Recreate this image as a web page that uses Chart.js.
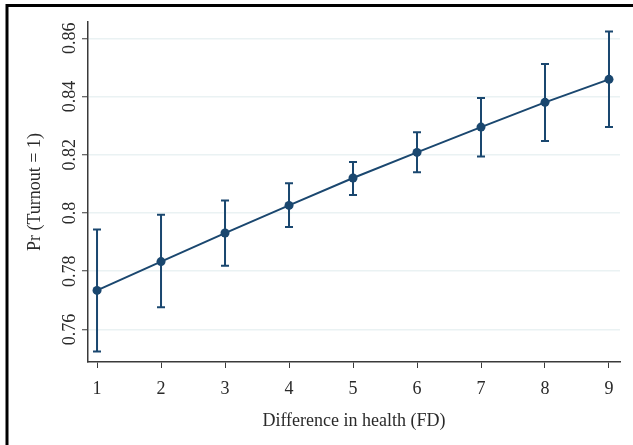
<!DOCTYPE html>
<html><head><meta charset="utf-8">
<script src="https://cdn.jsdelivr.net/npm/chart.js@4/dist/chart.umd.min.js"></script>
<style>html,body{margin:0;padding:0;background:#fff;} canvas{display:block}</style>
</head><body>
<canvas id="c" width="633" height="445"></canvas>
<script>
const categories = [1, 2, 3, 4, 5, 6, 7, 8, 9];
const margins = [0.7734, 0.7833, 0.7931, 0.8026, 0.8120, 0.8208, 0.8295, 0.8380, 0.8459];
const ciLower = [0.7524, 0.7676, 0.7819, 0.7952, 0.8062, 0.8140, 0.8194, 0.8247, 0.8295];
const ciUpper = [0.7943, 0.7994, 0.8043, 0.8102, 0.8175, 0.8277, 0.8395, 0.8512, 0.8623];
const yTickValues = [0.76, 0.78, 0.80, 0.82, 0.84, 0.86];
const yTickLabels = ['0.76', '0.78', '0.8', '0.82', '0.84', '0.86'];
const xTickLabels = ['1', '2', '3', '4', '5', '6', '7', '8', '9'];
const xTitle = 'Difference in health (FD)';
const yTitle = 'Pr (Turnout = 1)';

const NAVY = '#1a476f';
const AXIS = '#3a3a3a';
const TEXT = '#2a2a2a';
const FONT = { family: "'Liberation Serif','Times New Roman',serif", size: 18 };

const frame = {
  id: 'frame',
  beforeDraw(chart) {
    const ctx = chart.ctx;
    ctx.save();
    ctx.fillStyle = '#fff';
    ctx.fillRect(0, 0, chart.width, chart.height);
    ctx.strokeStyle = '#000';
    ctx.lineWidth = 3;
    ctx.beginPath();
    ctx.moveTo(5.5, 5.5); ctx.lineTo(chart.width, 5.5);
    ctx.moveTo(7, 4); ctx.lineTo(7, chart.height);
    ctx.stroke();
    ctx.restore();
  }
};

const errorBars = {
  id: 'errorBars',
  beforeDatasetsDraw(chart) {
    const { ctx, scales: { x, y } } = chart;
    ctx.save();
    ctx.strokeStyle = NAVY;
    ctx.lineWidth = 2;
    categories.forEach((c, i) => {
      const px = x.getPixelForValue(c);
      const top = y.getPixelForValue(ciUpper[i]);
      const bot = y.getPixelForValue(ciLower[i]);
      ctx.beginPath();
      ctx.moveTo(px, top); ctx.lineTo(px, bot);
      ctx.moveTo(px - 4, top); ctx.lineTo(px + 4, top);
      ctx.moveTo(px - 4, bot); ctx.lineTo(px + 4, bot);
      ctx.stroke();
    });
    ctx.restore();
  }
};

new Chart(document.getElementById('c'), {
  type: 'line',
  data: {
    datasets: [{
      data: categories.map((c, i) => ({ x: c, y: margins[i] })),
      borderColor: NAVY,
      borderWidth: 2,
      pointRadius: 4.5,
      pointBackgroundColor: NAVY,
      pointBorderColor: NAVY,
      pointBorderWidth: 0,
      tension: 0,
      fill: false
    }]
  },
  options: {
    responsive: false,
    animation: false,
    devicePixelRatio: 1,
    layout: { padding: { left: 0, right: 13, top: 22, bottom: 0 } },
    plugins: { legend: { display: false }, tooltip: { enabled: false } },
    scales: {
      x: {
        type: 'linear',
        min: 0.859,
        max: 9.172,
        afterBuildTicks: s => { s.ticks = categories.map(v => ({ value: v })); },
        afterFit: s => { s.height = 83; },
        ticks: {
          autoSkip: false,
          font: FONT,
          color: TEXT,
          padding: 10,
          maxRotation: 0,
          callback: v => xTickLabels[categories.indexOf(v)]
        },
        grid: { drawOnChartArea: false, drawTicks: true, tickLength: 6, tickColor: AXIS, tickWidth: 1 },
        border: { display: true, color: AXIS, width: 1.5 },
        title: { display: true, text: xTitle, font: FONT, color: TEXT, padding: { top: 0, bottom: 13 } }
      },
      y: {
        type: 'linear',
        min: 0.7488,
        max: 0.8656,
        afterBuildTicks: s => { s.ticks = yTickValues.map(v => ({ value: v })); },
        afterFit: s => { s.width = 88; },
        ticks: {
          autoSkip: false,
          font: FONT,
          color: TEXT,
          minRotation: 90,
          maxRotation: 90,
          crossAlign: 'center',
          padding: -4,
          callback: v => yTickLabels[yTickValues.findIndex(t => Math.abs(t - v) < 1e-9)]
        },
        grid: { color: '#eaf2f3', lineWidth: 1.5, drawTicks: true, tickLength: 6, tickColor: AXIS, tickWidth: 1 },
        border: { display: true, color: AXIS, width: 1.5 },
        title: { display: true, text: yTitle, font: FONT, color: TEXT, padding: { top: 24, bottom: 0 } }
      }
    }
  },
  plugins: [frame, errorBars]
});
</script>
</body></html>
